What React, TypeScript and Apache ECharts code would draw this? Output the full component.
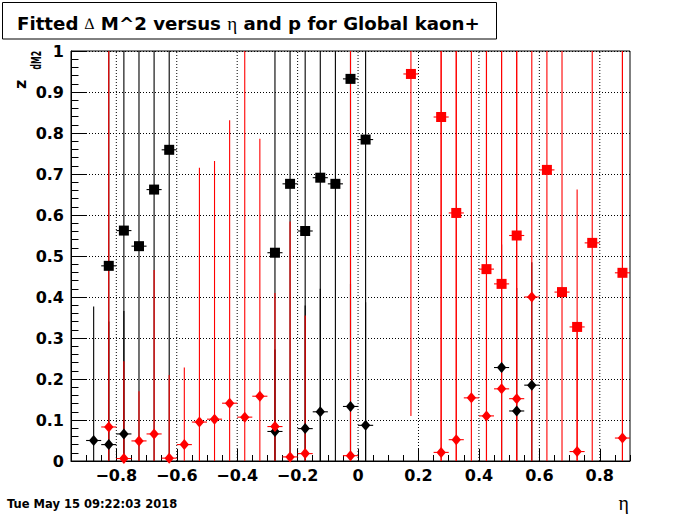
import React, { useEffect, useRef } from 'react';
import * as echarts from 'echarts';

// ---- axes ----
const xMin = -0.95;
const xMax = 0.9;
const xMajorTicks = [-0.8, -0.6, -0.4, -0.2, 0, 0.2, 0.4, 0.6, 0.8];
const yTickLabels = ['0', '0.1', '0.2', '0.3', '0.4', '0.5', '0.6', '0.7', '0.8', '0.9', '1'];
const halfBin = 0.025;

// ---- black squares ----
const blackSqEta = [-0.825, -0.775, -0.725, -0.675, -0.625, -0.275, -0.225, -0.175, -0.125, -0.075, -0.025, 0.025];
const blackSqVal = [0.476, 0.562, 0.524, 0.662, 0.759, 0.508, 0.676, 0.561, 0.691, 0.676, 0.932, 0.784];
const blackSqErr = [1, 1, 1, 1, 1, 1, 1, 1, 1, 1, 1, 1];

// ---- black diamonds ----
const blackDiaEta = [-0.875, -0.825, -0.775, -0.275, -0.175, -0.125, -0.025, 0.025, 0.475, 0.525, 0.575];
const blackDiaVal = [0.05, 0.04, 0.066, 0.072, 0.079, 0.12, 0.133, 0.087, 0.228, 0.122, 0.185];
const blackDiaErr = [0.327, 0.3, 0.3, 0.2, 0.3, 0.3, 0.3, 0.3, 0.3, 0.3, 0.3];

// ---- red squares ----
const redSqEta = [0.175, 0.275, 0.325, 0.425, 0.475, 0.525, 0.625, 0.675, 0.725, 0.775, 0.875];
const redSqVal = [0.944, 0.839, 0.605, 0.468, 0.432, 0.55, 0.71, 0.412, 0.327, 0.532, 0.459];
const redSqErr = [0.834, 1, 1, 1, 1, 1, 1, 1, 0.335, 1, 1];

// ---- red diamonds ----
const redDiaEta = [-0.825, -0.775, -0.725, -0.675, -0.625, -0.575, -0.525, -0.475, -0.425, -0.375, -0.325, -0.275, -0.225, -0.175, -0.025, 0.275, 0.325, 0.375, 0.425, 0.475, 0.525, 0.575, 0.725, 0.875];
const redDiaVal = [0.083, 0.006, 0.049, 0.066, 0.007, 0.04, 0.095, 0.102, 0.141, 0.107, 0.158, 0.084, 0.01, 0.018, 0.013, 0.021, 0.052, 0.154, 0.11, 0.176, 0.152, 0.4, 0.023, 0.056];
const redDiaErr = [1, 0.237, 0.121, 0.4, 0.203, 0.188, 0.62, 0.63, 0.69, 1, 0.628, 0.326, 0.574, 0.337, 1, 1, 1, 1, 1, 1, 1, 1, 0.3, 1];

const FONT = 'DejaVu Sans';
const BLACK = '#000000';
const RED = '#ff0000';

const zip = (xs: number[], ys: number[], es: number[]) => xs.map((x, i) => [x, ys[i], es[i]]);

const errorRender = (color: string) => (params: any, api: any) => {
  const x = api.value(0);
  const y = api.value(1);
  const e = api.value(2);
  const top = api.coord([x, Math.min(y + e, 1)]);
  const bot = api.coord([x, Math.max(y - e, 0)]);
  const l = api.coord([Math.max(x - halfBin, xMin), y]);
  const r = api.coord([Math.min(x + halfBin, xMax), y]);
  return {
    type: 'group',
    children: [
      { type: 'line', shape: { x1: top[0], y1: top[1], x2: bot[0], y2: bot[1] }, style: { stroke: color, lineWidth: 1.1 } },
      { type: 'line', shape: { x1: l[0], y1: l[1], x2: r[0], y2: r[1] }, style: { stroke: color, lineWidth: 1.1 } },
    ],
  };
};

const markerRender = (color: string, kind: 'square' | 'diamond') => (params: any, api: any) => {
  const c = api.coord([api.value(0), api.value(1)]);
  if (kind === 'square') {
    return { type: 'rect', shape: { x: c[0] - 5, y: c[1] - 5, width: 10, height: 10 }, style: { fill: color } };
  }
  return {
    type: 'polygon',
    shape: { points: [[c[0], c[1] - 5.5], [c[0] + 4.7, c[1]], [c[0], c[1] + 5.5], [c[0] - 4.7, c[1]]] },
    style: { fill: color },
  };
};

const fmtX = (v: number) => {
  if (Math.abs(v) < 1e-9) return '0';
  return (v < 0 ? '\u2212' : '') + Math.abs(v).toFixed(1);
};

export default function App() {
  const ref = useRef<HTMLDivElement>(null);
  useEffect(() => {
    if (!ref.current) return;
    const chart = echarts.init(ref.current, null, { renderer: 'svg' });
    const errSeries = (data: number[][], color: string, z: number) => ({
      type: 'custom', xAxisIndex: 0, yAxisIndex: 0, z, silent: true,
      encode: { x: 0, y: 1 }, data, renderItem: errorRender(color),
    });
    const mkSeries = (data: number[][], color: string, kind: 'square' | 'diamond', z: number) => ({
      type: 'custom', xAxisIndex: 0, yAxisIndex: 0, z, silent: true,
      encode: { x: 0, y: 1 }, data, renderItem: markerRender(color, kind),
    });
    const bs = zip(blackSqEta, blackSqVal, blackSqErr);
    const bd = zip(blackDiaEta, blackDiaVal, blackDiaErr);
    const rs = zip(redSqEta, redSqVal, redSqErr);
    const rd = zip(redDiaEta, redDiaVal, redDiaErr);

    chart.setOption({
      animation: false,
      grid: { left: 71, top: 51, width: 559, height: 410, show: true, borderColor: BLACK, borderWidth: 1, backgroundColor: 'transparent' },
      xAxis: [
        {
          type: 'value', min: xMin, max: xMax, position: 'bottom',
          axisLine: { show: true, onZero: false, lineStyle: { color: BLACK, width: 1 } },
          axisTick: { show: true, inside: true, length: 12, customValues: xMajorTicks, lineStyle: { color: BLACK, width: 1 } },
          axisLabel: { customValues: xMajorTicks, formatter: fmtX, fontFamily: FONT, fontWeight: 'bold', fontSize: 16, color: BLACK, margin: 6 },
          splitLine: { show: false },
        },
        {
          type: 'value', min: xMin, max: xMax, interval: 0.05, position: 'bottom',
          axisLine: { show: false, onZero: false },
          axisTick: { show: true, inside: true, length: 6, lineStyle: { color: BLACK, width: 1 } },
          axisLabel: { show: false },
          splitLine: { show: false },
        },
      ],
      yAxis: {
        type: 'value', min: 0, max: 1, interval: 0.1, position: 'left',
        axisLine: { show: true, onZero: false, lineStyle: { color: BLACK, width: 1 } },
        axisTick: { show: true, inside: true, length: 15, lineStyle: { color: BLACK, width: 1 } },
        minorTick: { show: true, splitNumber: 5, length: 7.5, lineStyle: { color: BLACK, width: 1 } },
        axisLabel: {
          formatter: (v: number) => yTickLabels[Math.round(v * 10)] ?? '',
          fontFamily: FONT, fontWeight: 'bold', fontSize: 16, color: BLACK, margin: 7,
        },
        splitLine: { show: true, lineStyle: { color: BLACK, width: 1, type: [1, 2] } },
        minorSplitLine: { show: false },
      },
      series: [
        {
          type: 'custom', xAxisIndex: 0, yAxisIndex: 0, z: 1, silent: true,
          encode: { x: 0, y: 1 },
          data: xMajorTicks.map((v) => [v, 0]),
          renderItem: (params: any, api: any) => {
            const v = api.value(0);
            const a = api.coord([v, 0]);
            const b = api.coord([v, 1]);
            return { type: 'line', shape: { x1: a[0], y1: a[1], x2: b[0], y2: b[1] }, style: { stroke: BLACK, lineWidth: 1, lineDash: [1, 2] } };
          },
        },
        errSeries(bs, BLACK, 2),
        errSeries(bd, BLACK, 2),
        errSeries(rs, RED, 3),
        errSeries(rd, RED, 3),
        mkSeries(bs, BLACK, 'square', 4),
        mkSeries(bd, BLACK, 'diamond', 4),
        mkSeries(rs, RED, 'square', 5),
        mkSeries(rd, RED, 'diamond', 5),
      ],
      graphic: [
        { type: 'rect', shape: { x: 2.5, y: 2.5, width: 494, height: 36.5 }, style: { fill: '#ffffff', stroke: BLACK, lineWidth: 1 }, z: 10 },
        {
          type: 'text', x: 17, y: 23, z: 11,
          style: {
            text: '{b|Fitted }{s|\u2206}{b| M^2 versus }{e|\u03b7}{b| and p for Global kaon+}',
            textVerticalAlign: 'middle', textAlign: 'left',
            rich: {
              b: { fontFamily: FONT, fontWeight: 'bold', fontSize: 18.2, fill: BLACK },
              s: { fontFamily: 'Liberation Serif', fontSize: 16, fill: BLACK },
              e: { fontFamily: 'Liberation Serif', fontSize: 19, fill: BLACK },
            },
          },
        },
        {
          type: 'text', x: 20, y: 89, rotation: Math.PI / 2, z: 11,
          style: { text: 'z', fontFamily: FONT, fontWeight: 'bold', fontSize: 16, fill: BLACK, textAlign: 'left', textVerticalAlign: 'middle' },
        },
        {
          type: 'text', x: 36.8, y: 69.5, rotation: Math.PI / 2, scaleX: 0.55, z: 11,
          style: { text: 'dM2', fontFamily: FONT, fontWeight: 'bold', fontSize: 14, fill: BLACK, textAlign: 'left', textVerticalAlign: 'middle' },
        },
        {
          type: 'text', x: 7, y: 504, z: 11,
          style: { text: 'Tue May 15 09:22:03 2018', fontFamily: FONT, fontWeight: 'bold', fontSize: 11.5, fill: BLACK, textAlign: 'left', textVerticalAlign: 'middle' },
        },
        {
          type: 'text', x: 629, y: 503, z: 11,
          style: { text: '\u03b7', fontFamily: 'Liberation Serif', fontSize: 20, fill: BLACK, textAlign: 'right', textVerticalAlign: 'middle' },
        },
      ],
    });
    return () => chart.dispose();
  }, []);
  return <div ref={ref} style={{ position: 'absolute', left: 0, top: 0, width: 700, height: 514 }} />;
}
